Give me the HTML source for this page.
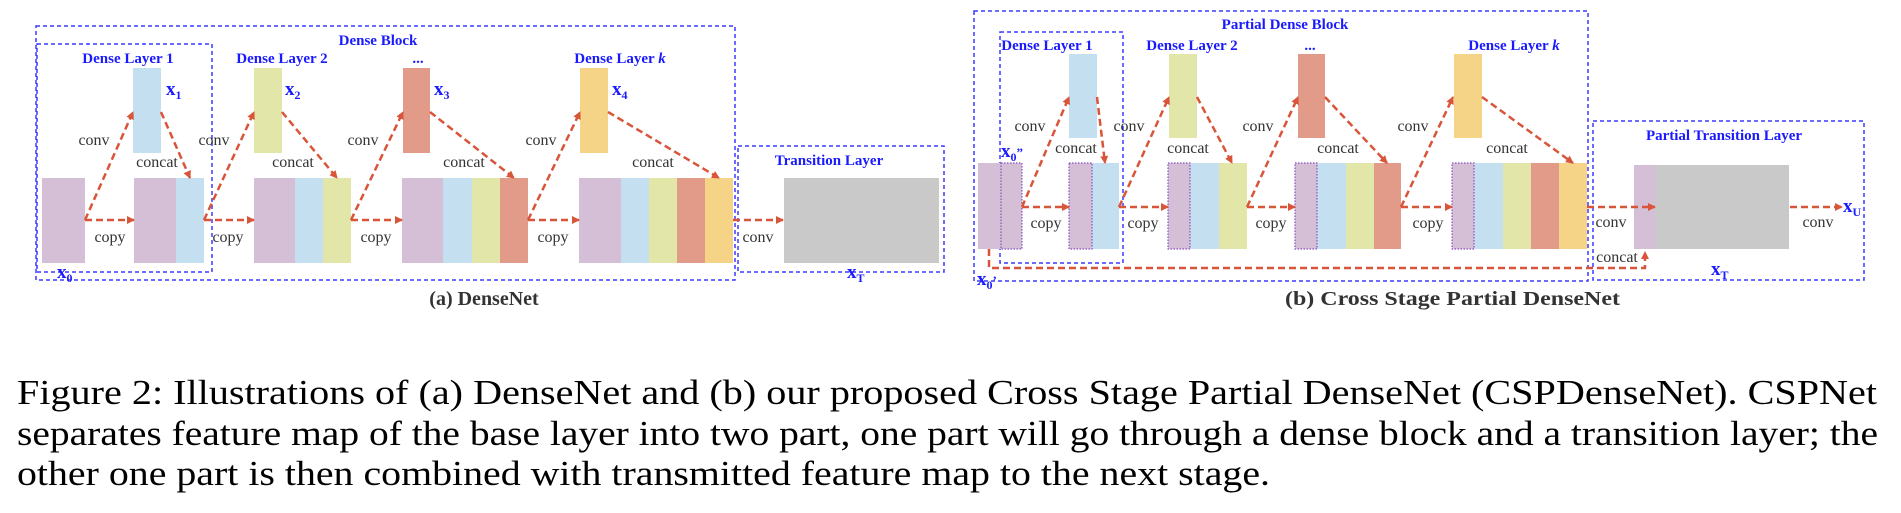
<!DOCTYPE html>
<html><head><meta charset="utf-8"><style>
html,body{margin:0;padding:0;background:#fff;width:1901px;height:513px;overflow:hidden}
svg{display:block}
.lb{font-family:"Liberation Serif",serif;font-size:16px;fill:#333}
.bl{font-family:"Liberation Serif",serif;font-weight:bold;font-size:15px;fill:#1a1aff}
.xv{font-family:"Liberation Serif",serif;font-weight:bold;font-size:19px;fill:#1a1aff}
.cap{font-family:"Liberation Serif",serif;font-weight:bold;font-size:20px;fill:#333}
.txt{font-family:"Liberation Serif",serif;font-size:35px;fill:#000}
</style></head><body>
<svg width="1901" height="513" viewBox="0 0 1901 513" xmlns="http://www.w3.org/2000/svg">
<defs>
<marker id="ah" markerWidth="8" markerHeight="8" refX="7" refY="4" orient="auto" markerUnits="userSpaceOnUse"><path d="M0,0 L8,4 L0,8 z" fill="#d9553a"/></marker>
</defs>
<g fill="none" stroke="#3a3aff" stroke-width="1.5" stroke-dasharray="4,3">
<rect x="36" y="26" width="699" height="254"/>
<rect x="37" y="44" width="175" height="228"/>
<rect x="738" y="146" width="206" height="126"/>
<rect x="974" y="11" width="614" height="270"/>
<rect x="1000" y="32" width="123" height="231"/>
<rect x="1593" y="121" width="271" height="159"/>
</g>
<!-- (a) bars -->
<g>
<rect x="133" y="68" width="28" height="85" fill="#c3dff0"/>
<rect x="254" y="68" width="28" height="85" fill="#e2e6a9"/>
<rect x="403" y="68" width="27" height="85" fill="#e29b89"/>
<rect x="580" y="68" width="28" height="85" fill="#f5d487"/>
<rect x="42" y="178" width="43" height="85" fill="#d4bfd6"/>
<rect x="134" y="178" width="42" height="85" fill="#d4bfd6"/><rect x="176" y="178" width="28" height="85" fill="#c3dff0"/>
<rect x="254" y="178" width="41" height="85" fill="#d4bfd6"/><rect x="295" y="178" width="28" height="85" fill="#c3dff0"/><rect x="323" y="178" width="28" height="85" fill="#e2e6a9"/>
<rect x="402" y="178" width="41" height="85" fill="#d4bfd6"/><rect x="443" y="178" width="29" height="85" fill="#c3dff0"/><rect x="472" y="178" width="28" height="85" fill="#e2e6a9"/><rect x="500" y="178" width="28" height="85" fill="#e29b89"/>
<rect x="579" y="178" width="42" height="85" fill="#d4bfd6"/><rect x="621" y="178" width="28" height="85" fill="#c3dff0"/><rect x="649" y="178" width="28" height="85" fill="#e2e6a9"/><rect x="677" y="178" width="28" height="85" fill="#e29b89"/><rect x="705" y="178" width="28" height="85" fill="#f5d487"/>
<rect x="784" y="178" width="155" height="85" fill="#c9c9c9"/>
</g>
<!-- (b) bars -->
<g>
<rect x="1069" y="54" width="28" height="84" fill="#c3dff0"/>
<rect x="1169" y="54" width="28" height="84" fill="#e2e6a9"/>
<rect x="1298" y="54" width="27" height="84" fill="#e29b89"/>
<rect x="1454" y="54" width="28" height="84" fill="#f5d487"/>
<rect x="978" y="163" width="44" height="86" fill="#d4bfd6"/>
<rect x="1069" y="163" width="23" height="86" fill="#d4bfd6"/><rect x="1092" y="163" width="27" height="86" fill="#c3dff0"/>
<rect x="1168" y="163" width="22" height="86" fill="#d4bfd6"/><rect x="1190" y="163" width="29" height="86" fill="#c3dff0"/><rect x="1219" y="163" width="28" height="86" fill="#e2e6a9"/>
<rect x="1295" y="163" width="22" height="86" fill="#d4bfd6"/><rect x="1317" y="163" width="29" height="86" fill="#c3dff0"/><rect x="1346" y="163" width="28" height="86" fill="#e2e6a9"/><rect x="1374" y="163" width="27" height="86" fill="#e29b89"/>
<rect x="1452" y="163" width="22" height="86" fill="#d4bfd6"/><rect x="1474" y="163" width="29" height="86" fill="#c3dff0"/><rect x="1503" y="163" width="28" height="86" fill="#e2e6a9"/><rect x="1531" y="163" width="28" height="86" fill="#e29b89"/><rect x="1559" y="163" width="28" height="86" fill="#f5d487"/>
<rect x="1634" y="165" width="21" height="84" fill="#d4bfd6"/><rect x="1655" y="165" width="134" height="84" fill="#c9c9c9"/>
</g>
<g fill="none" stroke="#8a4fc0" stroke-width="1.2" stroke-dasharray="1.5,1.5">
<rect x="1001" y="163" width="21" height="86"/>
<rect x="1069" y="163" width="23" height="86"/>
<rect x="1168" y="163" width="22" height="86"/>
<rect x="1295" y="163" width="22" height="86"/>
<rect x="1452" y="163" width="22" height="86"/>
</g>
<!-- arrows -->
<g stroke="#d9553a" stroke-width="2.5" stroke-dasharray="7,4" fill="none" marker-end="url(#ah)">
<line x1="85" y1="220" x2="133" y2="112"/><line x1="161" y1="112" x2="190" y2="178"/>
<line x1="204" y1="220" x2="254" y2="112"/><line x1="282" y1="112" x2="337" y2="178"/>
<line x1="351" y1="220" x2="403" y2="112"/><line x1="430" y1="112" x2="514" y2="178"/>
<line x1="528" y1="220" x2="580" y2="112"/><line x1="608" y1="112" x2="719" y2="178"/>
<line x1="85" y1="220" x2="134" y2="220"/><line x1="204" y1="220" x2="254" y2="220"/><line x1="351" y1="220" x2="402" y2="220"/><line x1="528" y1="220" x2="579" y2="220"/><line x1="733" y1="220" x2="783" y2="220"/>
<line x1="1022" y1="207" x2="1069" y2="97"/><line x1="1097" y1="97" x2="1105" y2="163"/>
<line x1="1119" y1="207" x2="1169" y2="97"/><line x1="1197" y1="97" x2="1232" y2="163"/>
<line x1="1247" y1="207" x2="1298" y2="97"/><line x1="1325" y1="97" x2="1387" y2="163"/>
<line x1="1401" y1="207" x2="1453" y2="97"/><line x1="1482" y1="97" x2="1573" y2="163"/>
<line x1="1022" y1="207" x2="1069" y2="207"/><line x1="1119" y1="207" x2="1168" y2="207"/><line x1="1247" y1="207" x2="1295" y2="207"/><line x1="1401" y1="207" x2="1452" y2="207"/><line x1="1587" y1="207" x2="1655" y2="207"/>
<line x1="1790" y1="207" x2="1842" y2="207"/>
<polyline points="989,249 989,268 1645,268 1645,252"/>
</g>
<!-- (a) labels -->
<g class="lb" text-anchor="middle">
<text x="94" y="145">conv</text><text x="157" y="167">concat</text><text x="110" y="242">copy</text>
<text x="214" y="145">conv</text><text x="293" y="167">concat</text><text x="228" y="242">copy</text>
<text x="363" y="145">conv</text><text x="464" y="167">concat</text><text x="376" y="242">copy</text>
<text x="541" y="145">conv</text><text x="653" y="167">concat</text><text x="553" y="242">copy</text>
<text x="758" y="242">conv</text>
<text x="1030" y="131">conv</text><text x="1076" y="153">concat</text><text x="1046" y="228">copy</text>
<text x="1129" y="131">conv</text><text x="1188" y="153">concat</text><text x="1143" y="228">copy</text>
<text x="1258" y="131">conv</text><text x="1338" y="153">concat</text><text x="1271" y="228">copy</text>
<text x="1413" y="131">conv</text><text x="1507" y="153">concat</text><text x="1428" y="228">copy</text>
<text x="1611" y="227">conv</text><text x="1617" y="262">concat</text><text x="1818" y="227">conv</text>
</g>
<g class="bl" text-anchor="middle">
<text x="378" y="45">Dense Block</text>
<text x="128" y="63">Dense Layer 1</text>
<text x="282" y="63">Dense Layer 2</text>
<text x="418" y="63">...</text>
<text x="620" y="63">Dense Layer <tspan font-style="italic">k</tspan></text>
<text x="829" y="165">Transition Layer</text>
<text x="1285" y="29">Partial Dense Block</text>
<text x="1047" y="50">Dense Layer 1</text>
<text x="1192" y="50">Dense Layer 2</text>
<text x="1310" y="50">...</text>
<text x="1514" y="50">Dense Layer <tspan font-style="italic">k</tspan></text>
<text x="1724" y="140">Partial Transition Layer</text>
</g>
<g class="xv">
<text x="166" y="95">x<tspan font-size="12" dy="4">1</tspan></text>
<text x="285" y="95">x<tspan font-size="12" dy="4">2</tspan></text>
<text x="434" y="95">x<tspan font-size="12" dy="4">3</tspan></text>
<text x="612" y="95">x<tspan font-size="12" dy="4">4</tspan></text>
<text x="57" y="278">x<tspan font-size="12" dy="4">0</tspan></text>
<text x="847" y="278">x<tspan font-size="12" dy="4">T</tspan></text>
<text x="1001" y="157">x<tspan font-size="12" dy="4">0</tspan><tspan font-size="13" dy="-4">”</tspan></text>
<text x="977" y="285">x<tspan font-size="12" dy="4">0</tspan><tspan font-size="13" dy="-4">’</tspan></text>
<text x="1711" y="275">x<tspan font-size="12" dy="4">T</tspan></text>
<text x="1843" y="212">x<tspan font-size="12" dy="4">U</tspan></text>
</g>
<text class="cap" x="484" y="305" text-anchor="middle">(a) DenseNet</text>
<text class="cap" x="1285" y="305" textLength="335" lengthAdjust="spacingAndGlyphs">(b) Cross Stage Partial DenseNet</text>
<text class="txt" x="17" y="404" textLength="1860" lengthAdjust="spacingAndGlyphs">Figure 2: Illustrations of (a) DenseNet and (b) our proposed Cross Stage Partial DenseNet (CSPDenseNet). CSPNet</text>
<text class="txt" x="17" y="445" textLength="1861" lengthAdjust="spacingAndGlyphs">separates feature map of the base layer into two part, one part will go through a dense block and a transition layer; the</text>
<text class="txt" x="17" y="485" textLength="1253" lengthAdjust="spacingAndGlyphs">other one part is then combined with transmitted feature map to the next stage.</text>
</svg>
</body></html>
